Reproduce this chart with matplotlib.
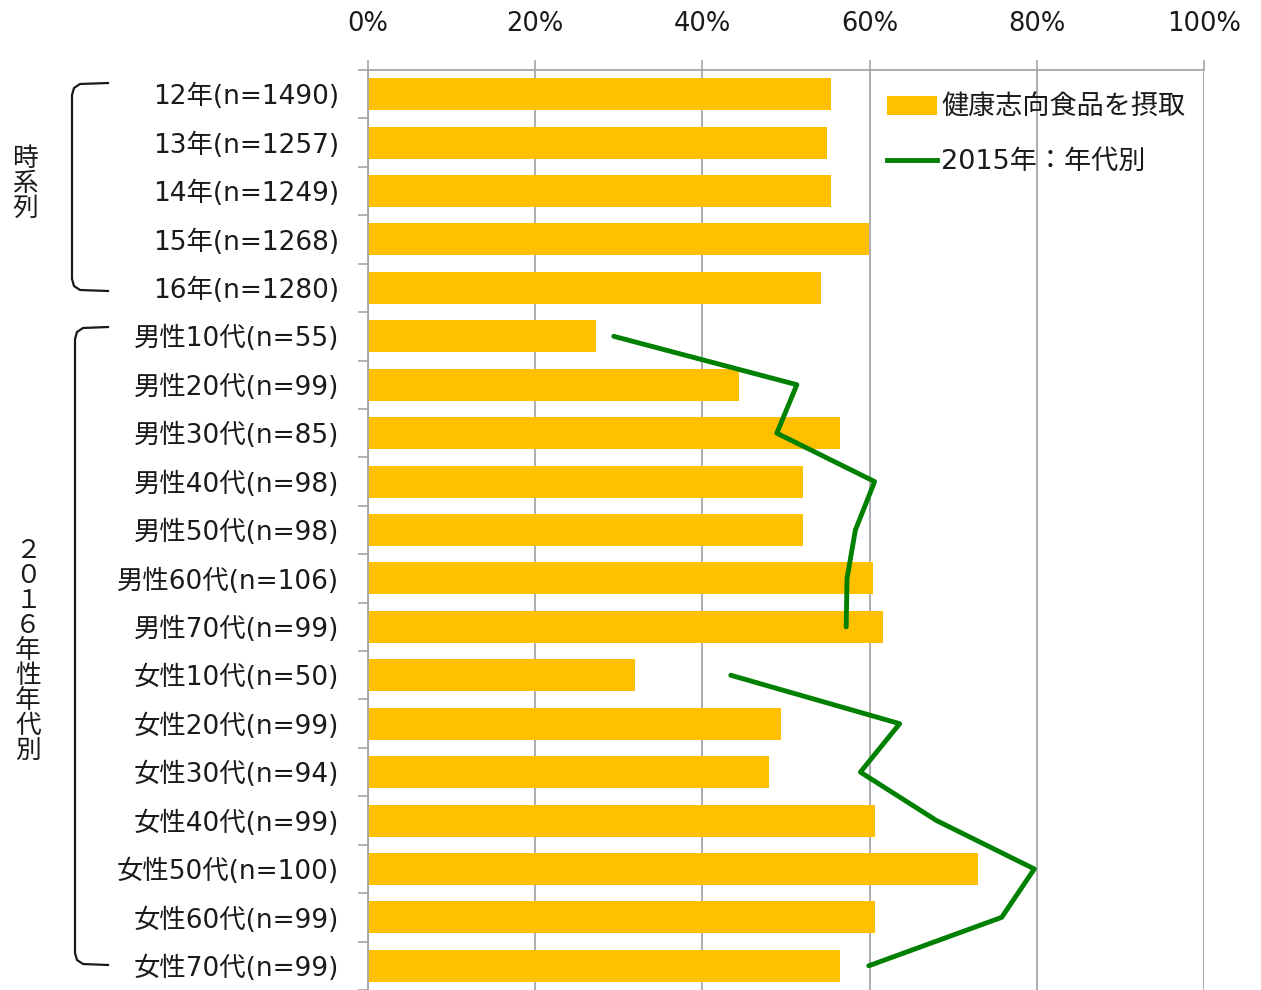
import matplotlib
matplotlib.use("Agg")
import matplotlib.pyplot as plt
import numpy as np
from matplotlib.patches import Patch
from matplotlib.lines import Line2D

plt.rcParams['font.family'] = ['DejaVu Sans', 'Noto Sans CJK JP']

categories = ["12年(n=1490)", "13年(n=1257)", "14年(n=1249)", "15年(n=1268)", "16年(n=1280)",
              "男性10代(n=55)", "男性20代(n=99)", "男性30代(n=85)", "男性40代(n=98)", "男性50代(n=98)",
              "男性60代(n=106)", "男性70代(n=99)",
              "女性10代(n=50)", "女性20代(n=99)", "女性30代(n=94)", "女性40代(n=99)", "女性50代(n=100)",
              "女性60代(n=99)", "女性70代(n=99)"]
bar_values = [55.4, 54.9, 55.4, 59.9, 54.2,
              27.3, 44.4, 56.5, 52.0, 52.0, 60.4, 61.6,
              31.9, 49.4, 48.0, 60.6, 73.0, 60.6, 56.5]
male_2015 = [29.4, 51.3, 48.9, 60.6, 58.3, 57.3, 57.2]
female_2015 = [43.4, 63.6, 58.9, 68.0, 79.7, 75.8, 59.9]
xticks = [0, 20, 40, 60, 80, 100]
xtick_labels = ["0%", "20%", "40%", "60%", "80%", "100%"]
legend_labels = ["健康志向食品を摂取", "2015年：年代別"]
group_labels = ["時系列", "２０１６年性年代別"]

W, H = 1261, 990
fig = plt.figure(figsize=(W / 100, H / 100), dpi=100)
ax = fig.add_axes([368 / W, 0.0, (1204 - 368) / W, 1 - 70 / H])

bar_color = "#FFC000"
line_color = "#008000"
grid_color = "#A6A6A6"
text_color = "#1a1a1a"

n = len(categories)
y = np.arange(n)
ax.barh(y, bar_values, height=0.66, color=bar_color, zorder=2)

male_idx = [categories.index(c) for c in categories if c.startswith("男性")]
female_idx = [categories.index(c) for c in categories if c.startswith("女性")]
ax.plot(male_2015, male_idx, color=line_color, lw=3.5, zorder=3, solid_capstyle='round')
ax.plot(female_2015, female_idx, color=line_color, lw=3.5, zorder=3, solid_capstyle='round')

ax.set_xlim(0, 100)
ax.set_ylim(n - 0.5, -0.5)
ax.xaxis.tick_top()
ax.set_xticks(xticks)
ax.set_xticklabels(xtick_labels, fontsize=18.5, color=text_color)
ax.tick_params(axis='x', which='major', length=7, width=1.2, color=grid_color, pad=17)
ax.grid(axis='x', color=grid_color, lw=1.3, zorder=0)

ax.set_yticks(y)
ax.set_yticklabels(categories, fontsize=19, color=text_color)
ax.tick_params(axis='y', which='major', length=0, pad=21)
ax.set_yticks(np.arange(-0.5, n, 1.0), minor=True)
ax.tick_params(axis='y', which='minor', length=7, width=1.2, color=grid_color)

for s in ['right', 'bottom']:
    ax.spines[s].set_visible(False)
for s in ['left', 'top']:
    ax.spines[s].set_color(grid_color)
    ax.spines[s].set_linewidth(1.3)

handles = [Patch(facecolor=bar_color, edgecolor='none'),
           Line2D([0], [0], color=line_color, lw=3.5)]
leg = ax.legend(handles, legend_labels, loc='upper left',
                bbox_to_anchor=((887 - 368) / (1204 - 368), 1 - (95 - 70) / (H - 70)),
                frameon=False, fontsize=19.5, handlelength=1.85, handleheight=0.65,
                handletextpad=0.15, labelspacing=1.05, borderaxespad=0, borderpad=0)
for t in leg.get_texts():
    t.set_color(text_color)

# decoration overlay in pixel coordinates
ov = fig.add_axes([0, 0, 1, 1], zorder=-1)
ov.set_xlim(0, W)
ov.set_ylim(H, 0)
ov.axis('off')

def bracket(x0, x1, y0, y1):
    xs = [x1, x0 + 8, x0 + 2, x0, x0, x0 + 2, x0 + 8, x1]
    ys = [y0, y0 + 1, y0 + 5, y0 + 12, y1 - 12, y1 - 5, y1 - 1, y1]
    ov.plot(xs, ys, color=text_color, lw=1.6, solid_joinstyle='round')

bracket(72, 108, 83, 291)
bracket(75, 108, 327, 965)

ov.text(25, 184, "\n".join(group_labels[0]), fontsize=18.5, color=text_color,
        family=['Noto Sans CJK JP'], ha='center', va='center', linespacing=0.95)
ov.text(28, 651, "\n".join(group_labels[1]), fontsize=18.5, color=text_color,
        family=['Noto Sans CJK JP'], ha='center', va='center', linespacing=0.95)

fig.savefig("out.png", dpi=100)
